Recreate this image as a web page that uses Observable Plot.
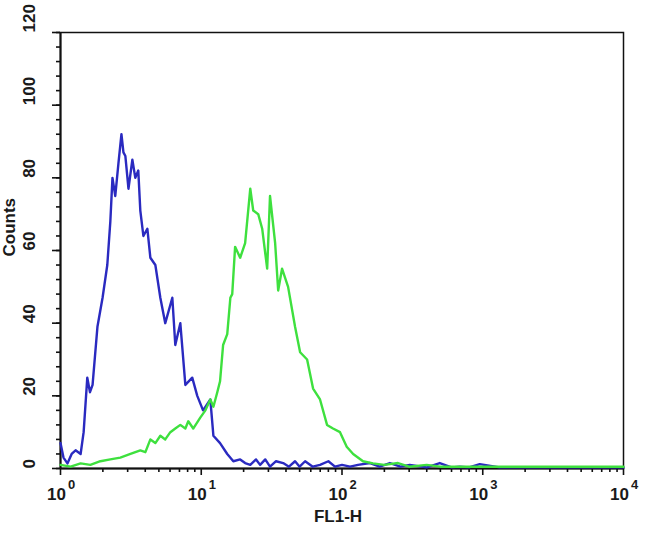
<!DOCTYPE html>
<html>
<head>
<meta charset="utf-8">
<script src="https://cdn.jsdelivr.net/npm/d3@7"></script>
<script src="https://cdn.jsdelivr.net/npm/@observablehq/plot@0.6"></script>
<style>
  html, body { margin: 0; padding: 0; background: #ffffff; }
  #chart { width: 650px; height: 533px; }
  svg { font-family: "Liberation Sans", Arial, sans-serif; }
</style>
</head>
<body>
<div id="chart"></div>
<script>
// FL1-H channel values and counts
const blueX = [1.00,1.05,1.12,1.20,1.28,1.39,1.46,1.55,1.62,1.69,1.83,1.99,2.15,2.26,2.34,2.45,2.58,2.71,2.80,2.89,3.04,3.24,3.40,3.57,3.69,3.88,4.14,4.35,4.72,5.12,5.55,6.23,6.54,7.10,7.71,8.63,9.37,10.3,11.6,12.2,13.6,15.3,16.9,18.9,20.5,22.3,24.5,26.2,28.5,30.8,34,38.2,42,46.4,50,54.7,62,69.8,80,89.2,100,114,130,158,185,219,260,303,400,495,600,687,800,952,1320,2510,4870,10000];
const blueY = [7,3,1.4,4,5,4,10,25,21,23,39,47,56,68,80,75,84,92,87,86,77,85,80,82,71,64,66,58,56,47,40,47,34,40,23,25,20,16,19,9,7,4,2,2.5,1.5,1,2.5,1,2.5,0.5,2,1.5,0.5,2,0.5,2,0.5,1,2,0.5,1,0.5,1,1.5,0.5,1.5,0.5,1,0.3,1.5,0.3,0.5,0.3,1.2,0.3,0.3,0.3,0.3];

const greenX = [1.00,1.18,1.39,1.63,1.92,2.26,2.66,3.14,3.69,4.01,4.35,4.72,5.12,5.55,6.03,6.54,7.10,7.71,8.09,8.77,9.84,10.7,11.6,12.2,13.0,13.6,14.3,15.3,16.1,16.6,17.4,18.9,20.5,22.3,23.4,25.4,27.1,29.4,30.8,33.5,35.2,37.5,41.4,46.4,50.4,56.5,62.3,69.8,78.3,86.3,96.8,108,120,141,166,200,250,300,400,500,700,1000,2000,5000,10000];
const greenY = [1,0.5,1.4,1,2,2.5,3,4,5,4.5,8,7,9,8,10,11,12,11,13,11,14,16,19,17,21,24,34,37,47,48,61,58,62,77,71,70,66,55,75,62,49,55,50,39,32,30,22,19,12,11,10,6,4,2,1.4,1,1.5,0.5,1,0.5,0.5,0.5,0.5,0.5,0.5];

const yMajor = [0,20,40,60,80,100,120];
const yMinor = d3.range(0, 121, 4);
const xMajor = [1,10,100,1000,10000];
const xExp = ["0","1","2","3","4"];
const xMinor = [1,10,100,1000].flatMap(p => [2,3,4,5,6,7,8,9].map(k => k*p));

const blue = blueX.map((x,i) => ({x, y: blueY[i]}));
const green = greenX.map((x,i) => ({x, y: greenY[i]}));
const xTickData = xMajor.map((v,i) => ({v, e: xExp[i]}));

const chart = Plot.plot({
  width: 650,
  height: 533,
  marginLeft: 60,
  marginRight: 27,
  marginTop: 32,
  marginBottom: 65,
  style: {background: "#ffffff", fontFamily: "'Liberation Sans', Arial, sans-serif"},
  x: {type: "log", domain: [1, 10000]},
  y: {domain: [0, 120]},
  marks: [
    Plot.frame({stroke: "#111", strokeWidth: 1.5}),
    Plot.axisY({ticks: yMinor, tickSize: 4, tickFormat: () => "", label: null, strokeWidth: 1.6, stroke: "#111"}),
    Plot.axisY({ticks: yMajor, tickSize: 8, tickFormat: () => "", label: null, strokeWidth: 1.6, stroke: "#111"}),
    Plot.axisX({ticks: xMinor, tickSize: 4, tickFormat: () => "", label: null, strokeWidth: 1.6, stroke: "#111"}),
    Plot.axisX({ticks: xMajor, tickSize: 7, tickFormat: () => "", label: null, strokeWidth: 1.6, stroke: "#111"}),
    Plot.ruleY([0], {stroke: "#111", strokeWidth: 2}),
    Plot.ruleX([1], {stroke: "#111", strokeWidth: 2}),
    Plot.text(yMajor, {y: d => d, text: d => String(d), frameAnchor: "left", dx: -31, rotate: -90, fontSize: 17, fontWeight: "bold", fill: "#1a1a1a", letterSpacing: "2px"}),
    Plot.text(xTickData, {x: "v", text: () => "10", frameAnchor: "bottom", dy: 31, dx: -4, fontSize: 17, fontWeight: "bold", fill: "#1a1a1a"}),
    Plot.text(xTickData, {x: "v", text: "e", frameAnchor: "bottom", dy: 20, dx: 11, fontSize: 13, fontWeight: "bold", fill: "#1a1a1a"}),
    Plot.text(["Counts"], {frameAnchor: "left", dx: -51, dy: 6, rotate: -90, fontSize: 17, fontWeight: "bold", fill: "#1a1a1a", letterSpacing: "1.5px"}),
    Plot.text(["FL1-H"], {frameAnchor: "bottom", dy: 53, dx: -4, fontSize: 17, fontWeight: "bold", fill: "#1a1a1a"}),
    Plot.line(blue, {x: "x", y: "y", stroke: "#2a2ac0", strokeWidth: 2.4}),
    Plot.line(green, {x: "x", y: "y", stroke: "#3ee03e", strokeWidth: 2.4})
  ]
});
document.getElementById("chart").appendChild(chart);
</script>
</body>
</html>
